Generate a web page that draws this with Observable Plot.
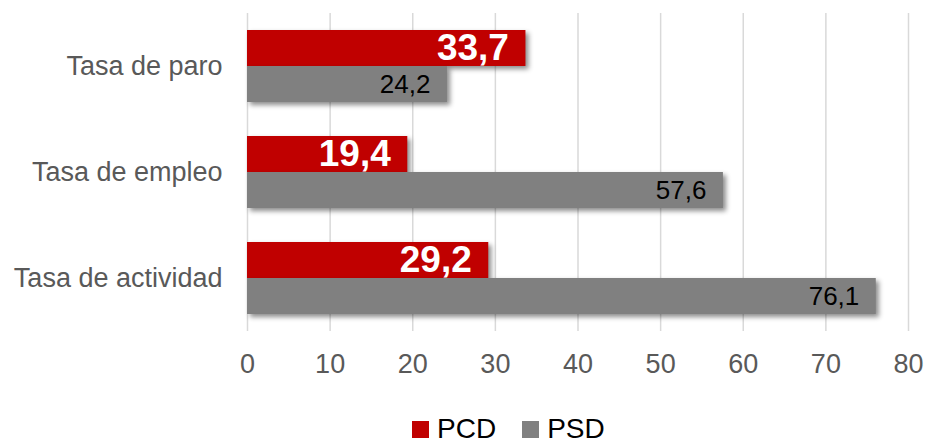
<!DOCTYPE html>
<html>
<head>
<meta charset="utf-8">
<script src="https://cdn.jsdelivr.net/npm/d3@7"></script>
<script src="https://cdn.jsdelivr.net/npm/@observablehq/plot@0.6"></script>
<style>
  html, body { margin: 0; padding: 0; background: #fff; }
  #chart { width: 928px; height: 444px; position: relative; font-family: "Liberation Sans", Arial, sans-serif; overflow: hidden; }
  g[aria-label="bar"] rect { filter: drop-shadow(3px 3px 2.5px rgba(0,0,0,0.45)); }
  .legend { display: flex; align-items: center; padding-left: 412px; padding-top: 17px; height: 30px; line-height: 30px; font-size: 28px; color: #000; }
  .legend .sw { width: 17px; height: 17px; margin-right: 8px; }
  .legend .item { display: flex; align-items: center; margin-right: 26px; }
</style>
</head>
<body>
<div id="chart"></div>
<script>
const categories = ["Tasa de paro", "Tasa de empleo", "Tasa de actividad"];
const series = ["PCD", "PSD"];
const colors = ["#C00000", "#808080"];
const pcd = [33.7, 19.4, 29.2];
const psd = [24.2, 57.6, 76.1];
const xTicks = [0, 10, 20, 30, 40, 50, 60, 70, 80];

const rows = categories.flatMap((c, i) => [
  {cat: c, s: series[0], v: pcd[i]},
  {cat: c, s: series[1], v: psd[i]}
]);
const fmt = v => v.toFixed(1).replace(".", ",");

const chart = Plot.plot({
  width: 928,
  height: 397,
  marginLeft: 247,
  marginRight: 20,
  marginTop: 12,
  marginBottom: 66,
  style: {fontSize: "27px", fontFamily: "'Liberation Sans', Arial, sans-serif", color: "#595959", background: "#fff"},
  x: {domain: [0, 80], ticks: xTicks, tickSize: 0, tickPadding: 22, label: null},
  y: {domain: series, axis: null, paddingInner: 0, paddingOuter: 0.456},
  fy: {domain: categories, padding: 0, axis: "left", tickSize: 0, tickPadding: 25, label: null},
  color: {domain: series, range: colors},
  marks: [
    Plot.gridX(xTicks, {stroke: "#d9d9d9", strokeOpacity: 1, strokeWidth: 1.5}),
    Plot.barX(rows, {x: "v", y: "s", fy: "cat", fill: "s"}),
    Plot.text(rows.filter(d => d.s === "PCD"), {x: "v", y: "s", fy: "cat", text: d => fmt(d.v), textAnchor: "end", dx: -17, fill: "white", fontWeight: "bold", fontSize: 37}),
    Plot.text(rows.filter(d => d.s === "PSD"), {x: "v", y: "s", fy: "cat", text: d => fmt(d.v), textAnchor: "end", dx: -17, fill: "black", fontSize: 26})
  ]
});
const root = document.getElementById("chart");
root.appendChild(chart);

const legend = document.createElement("div");
legend.className = "legend";
series.forEach((s, i) => {
  const item = document.createElement("div");
  item.className = "item";
  const sw = document.createElement("div");
  sw.className = "sw";
  sw.style.background = colors[i];
  const lab = document.createElement("span");
  lab.textContent = s;
  item.appendChild(sw);
  item.appendChild(lab);
  legend.appendChild(item);
});
root.appendChild(legend);
</script>
</body>
</html>
